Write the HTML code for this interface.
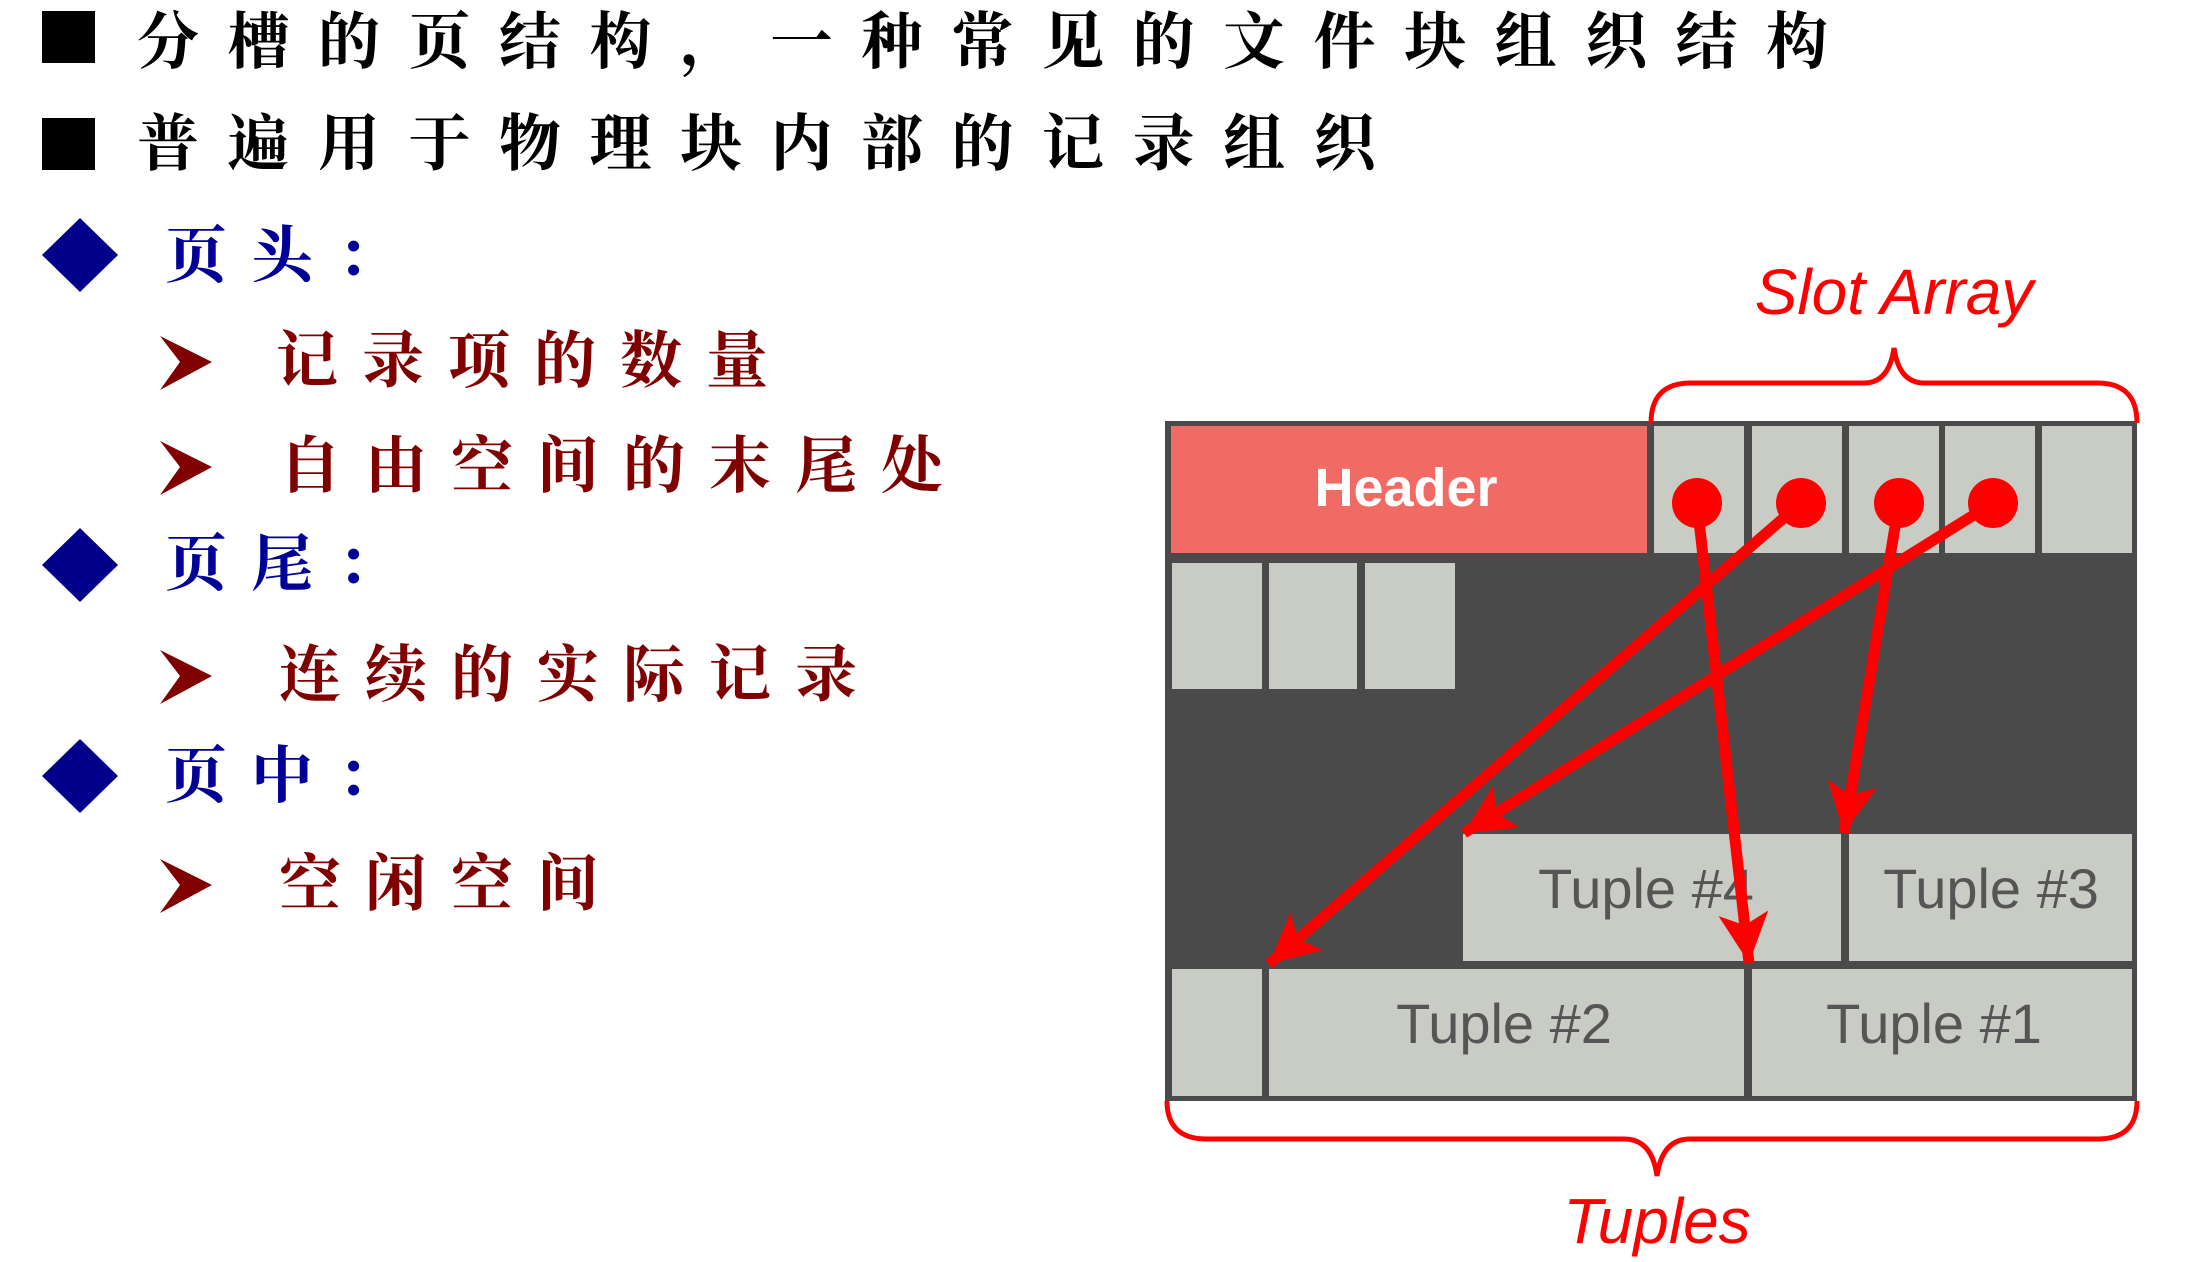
<!DOCTYPE html>
<html><head><meta charset="utf-8"><style>
body{margin:0;width:2186px;height:1262px;background:#fff;overflow:hidden;position:relative}
.t{position:absolute;font-family:"Liberation Serif","Noto Serif CJK SC",serif;font-weight:bold;font-size:62px;line-height:1;white-space:nowrap}
.k{color:#000;letter-spacing:28.5px}
.b{color:#000099;letter-spacing:24px}
.r{color:#800000;letter-spacing:24px}
.sq{position:absolute;left:42px;width:53px;height:52px;background:#000}
</style></head><body>
<div class="sq" style="top:11px"></div>
<div class="sq" style="top:118px"></div>
<div class="t k" style="left:137px;top:12px">分槽的页结构，一种常见的文件块组织结构</div>
<div class="t k" style="left:137px;top:114px">普遍用于物理块内部的记录组织</div>
<svg width="2186" height="1262" style="position:absolute;left:0;top:0">
<defs><marker id="a" markerUnits="userSpaceOnUse" markerWidth="60" markerHeight="60" refX="50" refY="25" orient="auto"><path d="M0,0 L50,25 L0,50 L12,25 Z" fill="#ff0000"/></marker></defs>
<g fill="#00008b">
<path d="M42,255 L80,218 L118,255 L80,292 Z"/>
<path d="M42,565 L80,528 L118,565 L80,602 Z"/>
<path d="M42,776 L80,739 L118,776 L80,813 Z"/>
</g>
<g fill="#800000">
<path d="M160,336 L212,362 L160,390 L180,362 Z"/>
<path d="M160,441 L212,467 L160,495 L180,467 Z"/>
<path d="M160,650 L212,676 L160,704 L180,676 Z"/>
<path d="M160,859 L212,885 L160,913 L180,885 Z"/>
</g>
<g transform="translate(-6,-4)">
<rect x="1171" y="425" width="972" height="680" fill="#4a4a4a"/>
<rect x="1177" y="430" width="476" height="127" fill="#f26a64"/>
<g fill="#c8ccc4">
<rect x="1660" y="430" width="90" height="127"/><rect x="1758" y="430" width="90" height="127"/><rect x="1855" y="430" width="90" height="127"/><rect x="1951" y="430" width="90" height="127"/><rect x="2048" y="430" width="90" height="127"/>
<rect x="1178" y="567" width="90" height="126"/><rect x="1275" y="567" width="88" height="126"/><rect x="1371" y="567" width="90" height="126"/>
<rect x="1469" y="838" width="378" height="127"/><rect x="1855" y="838" width="283" height="127"/>
<rect x="1178" y="973" width="90" height="127"/><rect x="1275" y="973" width="475" height="127"/><rect x="1758" y="973" width="380" height="127"/>
</g>
<g font-family="Liberation Sans,sans-serif" font-size="56" fill="#555" text-anchor="middle">
<text x="1652" y="912">Tuple #4</text><text x="1997" y="912">Tuple #3</text>
<text x="1510" y="1047">Tuple #2</text><text x="1940" y="1047">Tuple #1</text>
</g>
<text x="1412" y="510" font-family="Liberation Sans,sans-serif" font-weight="bold" font-size="54" fill="#fff" text-anchor="middle">Header</text>
<g stroke="#ff0000" stroke-width="11" fill="none" marker-end="url(#a)">
<line x1="1703" y1="507" x2="1755" y2="967"/>
<line x1="1807" y1="507" x2="1275" y2="968"/>
<line x1="1905" y1="507" x2="1850" y2="837"/>
<line x1="1999" y1="507" x2="1470" y2="837"/>
</g>
<g fill="#ff0000"><circle cx="1703" cy="507" r="25"/><circle cx="1807" cy="507" r="25"/><circle cx="1905" cy="507" r="25"/><circle cx="1999" cy="507" r="25"/></g>
<g stroke="#ff0000" stroke-width="5" fill="none">
<path d="M1657,427 Q1657,387 1697,387 L1870,387 Q1895,387 1900,352 Q1905,387 1930,387 L2103,387 Q2143,387 2143,427"/>
<path d="M1173,1105 Q1173,1143 1213,1143 L1630,1143 Q1658,1143 1663,1180 Q1668,1143 1696,1143 L2103,1143 Q2143,1143 2143,1105"/>
</g>
<g font-family="Liberation Sans,sans-serif" font-style="italic" font-size="64" fill="#ff0000" text-anchor="middle">
<text x="1900" y="318">Slot Array</text>
<text x="1663" y="1247">Tuples</text>
</g>
</g>
</svg>
<div class="t b" style="left:165px;top:226px">页头：</div>
<div class="t r" style="left:276px;top:331px">记录项的数量</div>
<div class="t r" style="left:279px;top:436px">自由空间的末尾处</div>
<div class="t b" style="left:165px;top:534px">页尾：</div>
<div class="t r" style="left:279px;top:645px">连续的实际记录</div>
<div class="t b" style="left:165px;top:746px">页中：</div>
<div class="t r" style="left:279px;top:854px">空闲空间</div>
</body></html>
